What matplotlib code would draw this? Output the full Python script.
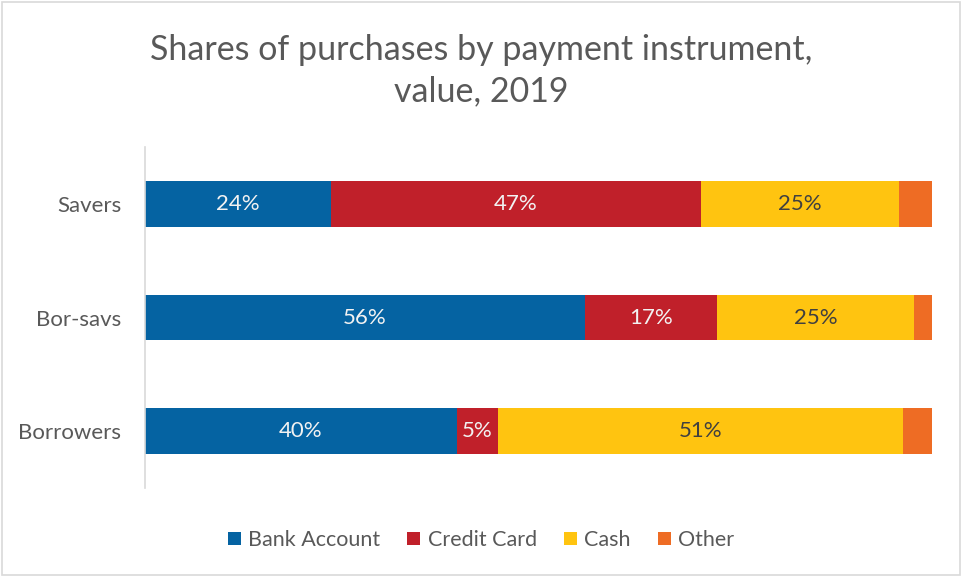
import numpy as np
import matplotlib
matplotlib.use('Agg')
import matplotlib.pyplot as plt

plt.rcParams['font.family'] = ['Lato', 'DejaVu Sans']

groups = ['Savers', 'Bor-savs', 'Borrowers']
series = ['Bank Account', 'Credit Card', 'Cash', 'Other']
bank = [23.6, 55.9, 39.6]
credit = [47.1, 16.8, 5.3]
cash = [25.1, 25.0, 51.4]
other = [4.2, 2.3, 3.7]
colors = ['#0563A2', '#C0202A', '#FFC410', '#EE6C24']
label_colors = ['#F2F2F2', '#F2F2F2', '#404040', None]

fig = plt.figure(figsize=(9.62, 5.77), dpi=100)
ax = fig.add_axes([145/962, 1-488/577, (932-145)/962, (488-147)/577])

y = np.arange(len(groups))
left = np.zeros(len(groups))
for name, vals, c, lc in zip(series, [bank, credit, cash, other], colors, label_colors):
    vals = np.array(vals)
    bars = ax.barh(y, vals, left=left, height=0.4, color=c, label=name)
    if lc is not None:
        for b, v in zip(bars, vals):
            ax.text(b.get_x() + b.get_width()/2, b.get_y() + b.get_height()/2,
                    '%d%%' % round(v), ha='center', va='center', fontsize=16, color=lc)
    left += vals

ax.set_xlim(0, 100)
ax.set_ylim(2.5, -0.5)
ax.set_yticks(y)
ax.set_yticklabels(groups, fontsize=16, color='#595959')
ax.set_xticks([])
ax.tick_params(axis='y', length=0, pad=17)
for s in ['top', 'right', 'bottom']:
    ax.spines[s].set_visible(False)
ax.spines['left'].set_color('#D9D9D9')
ax.spines['left'].set_linewidth(1.2)

fig.text(0.5, 1-71/577, 'Shares of purchases by payment instrument,\nvalue, 2019',
         ha='center', va='center', fontsize=24.5, color='#595959', linespacing=1.36)

leg = fig.legend(loc='center', bbox_to_anchor=(0.5, 1-540/577), ncol=4, frameon=False,
                 fontsize=15.5, handlelength=0.6, handleheight=0.6, handletextpad=0.35,
                 columnspacing=1.25)
for t in leg.get_texts():
    t.set_color('#595959')

# outer border
fig.patches.append(plt.Rectangle((0.002, 0.003), 0.996, 0.994, transform=fig.transFigure,
                                 fill=False, edgecolor='#D9D9D9', linewidth=1.2))

fig.savefig('out.png', dpi=100)
